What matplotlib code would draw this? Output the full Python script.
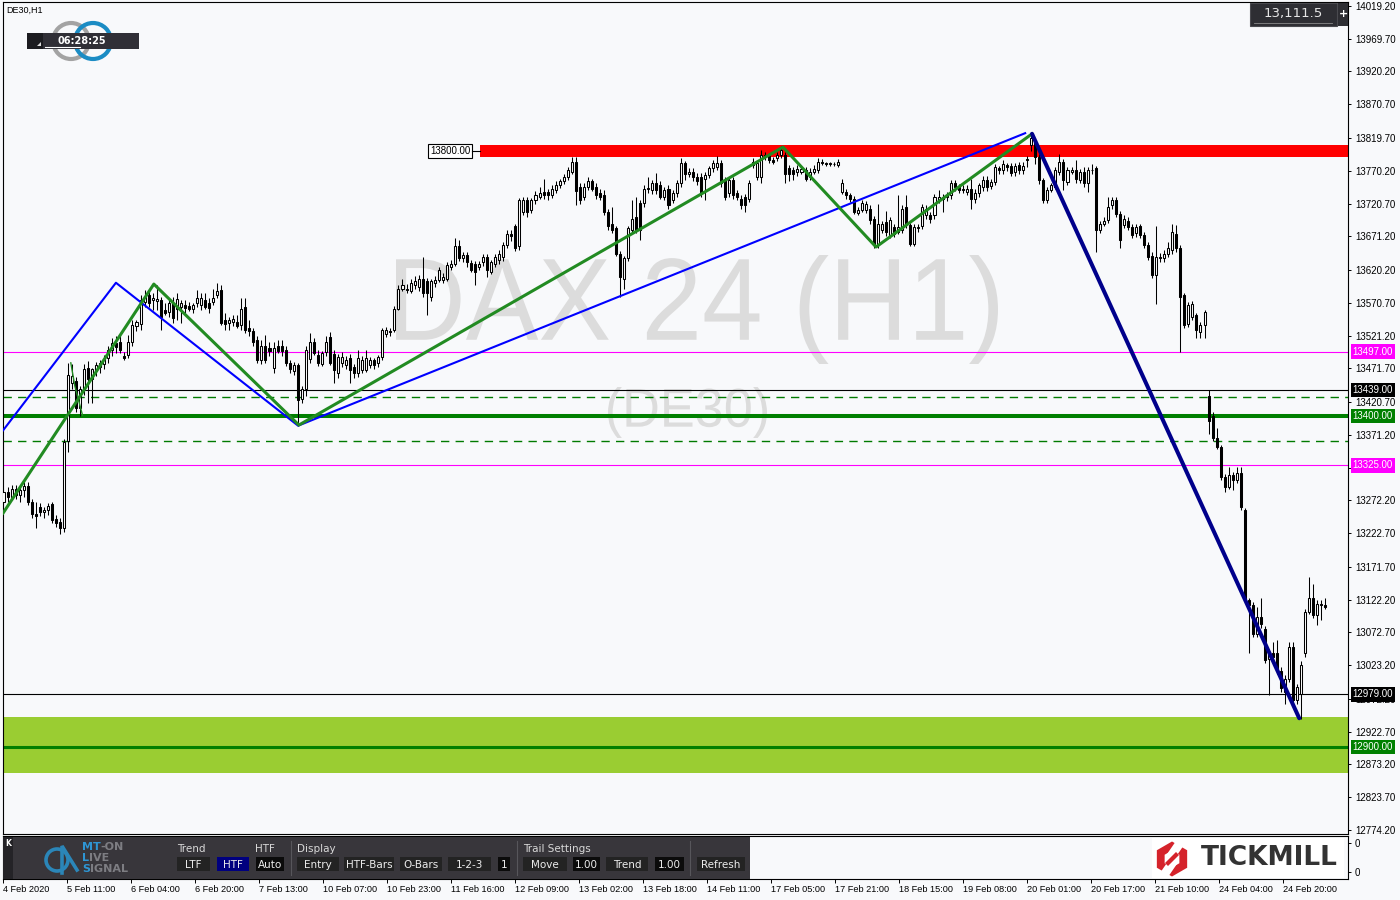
import numpy as np
import matplotlib
matplotlib.use("Agg")
import matplotlib.pyplot as plt
from matplotlib.patches import Rectangle, Circle, RegularPolygon, Polygon, PathPatch
from matplotlib.textpath import TextPath
from matplotlib.font_manager import FontProperties
from matplotlib.transforms import Affine2D, blended_transform_factory

# DE30 H1 candles (one entry per hour bar)
opens = [
    13270, 13285, 13278, 13290, 13280, 13288, 13294, 13270, 13252, 13262,
    13255, 13258, 13266, 13244, 13240, 13230, 13362, 13450, 13452, 13412,
    13440, 13472, 13455, 13468, 13474, 13478, 13487, 13499, 13510, 13512,
    13490, 13492, 13512, 13535, 13538, 13572, 13582, 13575, 13574, 13575,
    13560, 13557, 13570, 13562, 13565, 13568, 13566, 13562, 13570, 13568,
    13575, 13570, 13572, 13582, 13590, 13544, 13540, 13541, 13542, 13537,
    13565, 13532, 13528, 13515, 13485, 13505, 13503, 13472, 13505, 13505,
    13500, 13480, 13468, 13476, 13426, 13440, 13486, 13512, 13492, 13478,
    13497, 13519, 13494, 13464, 13479, 13477, 13487, 13474, 13464, 13469,
    13469, 13477, 13484, 13479, 13489, 13524, 13528, 13530, 13562, 13592,
    13592, 13589, 13597, 13595, 13607, 13603, 13580, 13600, 13605, 13605,
    13607, 13625, 13630, 13656, 13638, 13643, 13631, 13630, 13625, 13633,
    13640, 13617, 13630, 13635, 13640, 13658, 13675, 13686, 13656, 13708,
    13726, 13711, 13726, 13731, 13738, 13738, 13733, 13741, 13748, 13754,
    13761, 13769, 13783, 13746, 13731, 13746, 13754, 13746, 13736, 13733,
    13708, 13690, 13683, 13645, 13607, 13638, 13681, 13700, 13721, 13721,
    13742, 13741, 13751, 13748, 13731, 13743, 13726, 13736, 13751, 13782,
    13766, 13769, 13761, 13761, 13758, 13764, 13774, 13776, 13782, 13756,
    13736, 13756, 13736, 13728, 13731, 13728, 13783, 13761, 13761, 13794,
    13792, 13786, 13789, 13794, 13794, 13774, 13771, 13769, 13769, 13771,
    13761, 13769, 13771, 13783, 13782, 13781, 13781, 13779, 13738, 13738,
    13733, 13728, 13707, 13711, 13711, 13713, 13698, 13658, 13680, 13693,
    13673, 13685, 13678, 13680, 13715, 13688, 13660, 13683, 13686, 13703,
    13703, 13703, 13726, 13731, 13730, 13733, 13751, 13746, 13743, 13738,
    13743, 13728, 13736, 13746, 13757, 13747, 13753, 13774, 13771, 13779,
    13777, 13768, 13779, 13771, 13788, 13809, 13816, 13791, 13756, 13726,
    13741, 13746, 13768, 13784, 13753, 13769, 13771, 13756, 13768, 13751,
    13772, 13774, 13681, 13690, 13696, 13718, 13726, 13705, 13688, 13695,
    13685, 13676, 13686, 13673, 13658, 13642, 13612, 13640, 13638, 13645,
    13650, 13675, 13653, 13582, 13539, 13549, 13552, 13527, 13537, 13430,
    13400, 13366, 13353, 13308, 13293, 13310, 13303, 13313, 13258, 13121,
    13114, 13071, 13096, 13078, 13033, 13041, 13041, 13015, 12983, 13003,
    13051, 12970, 12980, 13041, 13104, 13124, 13099, 13115, 13114]
highs = [
    13290, 13292, 13295, 13296, 13293, 13300, 13300, 13275, 13270, 13268,
    13262, 13268, 13270, 13250, 13245, 13365, 13480, 13478, 13458, 13445,
    13478, 13483, 13472, 13482, 13485, 13492, 13505, 13518, 13520, 13525,
    13496, 13522, 13545, 13545, 13582, 13590, 13590, 13585, 13598, 13580,
    13570, 13575, 13580, 13585, 13575, 13575, 13572, 13570, 13590, 13585,
    13585, 13578, 13592, 13600, 13597, 13555, 13550, 13552, 13552, 13578,
    13578, 13545, 13532, 13520, 13515, 13522, 13512, 13512, 13515, 13515,
    13505, 13484, 13482, 13480, 13445, 13505, 13525, 13518, 13500, 13498,
    13520, 13527, 13499, 13494, 13496, 13491, 13494, 13478, 13499, 13491,
    13499, 13489, 13488, 13492, 13533, 13534, 13532, 13566, 13597, 13606,
    13599, 13606, 13611, 13612, 13640, 13608, 13606, 13611, 13625, 13616,
    13632, 13636, 13668, 13666, 13648, 13648, 13636, 13634, 13634, 13644,
    13645, 13636, 13645, 13651, 13662, 13681, 13681, 13690, 13729, 13731,
    13731, 13729, 13739, 13746, 13758, 13742, 13749, 13754, 13758, 13765,
    13776, 13791, 13791, 13751, 13751, 13761, 13758, 13751, 13742, 13741,
    13712, 13715, 13686, 13649, 13642, 13686, 13726, 13731, 13726, 13748,
    13761, 13756, 13767, 13754, 13746, 13748, 13741, 13756, 13789, 13785,
    13774, 13774, 13767, 13767, 13769, 13778, 13787, 13793, 13787, 13761,
    13761, 13761, 13741, 13733, 13735, 13756, 13789, 13787, 13801, 13799,
    13797, 13791, 13799, 13808, 13799, 13779, 13776, 13779, 13778, 13776,
    13774, 13779, 13789, 13788, 13784, 13784, 13784, 13788, 13758, 13742,
    13736, 13732, 13716, 13726, 13724, 13718, 13702, 13720, 13695, 13710,
    13700, 13690, 13733, 13718, 13733, 13692, 13690, 13690, 13720, 13718,
    13708, 13735, 13741, 13735, 13738, 13756, 13756, 13750, 13748, 13748,
    13758, 13742, 13752, 13762, 13762, 13758, 13780, 13778, 13786, 13782,
    13782, 13782, 13784, 13784, 13792, 13825, 13820, 13795, 13760, 13746,
    13752, 13776, 13796, 13788, 13776, 13776, 13786, 13773, 13776, 13776,
    13781, 13778, 13695, 13700, 13731, 13731, 13731, 13709, 13703, 13700,
    13690, 13690, 13690, 13678, 13662, 13648, 13686, 13646, 13650, 13663,
    13690, 13688, 13658, 13586, 13572, 13574, 13556, 13541, 13560, 13439,
    13405, 13381, 13356, 13312, 13323, 13315, 13323, 13323, 13261, 13125,
    13118, 13111, 13124, 13082, 13046, 13058, 13061, 13020, 13008, 13058,
    13058, 12995, 13030, 13108, 13156, 13146, 13121, 13121, 13124]
lows = [
    13255, 13270, 13272, 13275, 13270, 13278, 13265, 13245, 13230, 13248,
    13246, 13250, 13238, 13232, 13222, 13225, 13345, 13440, 13405, 13400,
    13432, 13420, 13420, 13460, 13465, 13470, 13480, 13490, 13495, 13495,
    13484, 13488, 13505, 13528, 13530, 13565, 13565, 13560, 13560, 13530,
    13552, 13550, 13540, 13545, 13540, 13555, 13558, 13555, 13565, 13560,
    13562, 13555, 13568, 13578, 13537, 13530, 13530, 13535, 13532, 13530,
    13525, 13520, 13505, 13480, 13478, 13480, 13490, 13465, 13495, 13490,
    13475, 13465, 13462, 13385, 13420, 13430, 13480, 13492, 13475, 13475,
    13490, 13476, 13449, 13457, 13474, 13471, 13449, 13457, 13459, 13464,
    13466, 13472, 13471, 13474, 13485, 13519, 13520, 13526, 13560, 13588,
    13586, 13586, 13592, 13589, 13580, 13552, 13574, 13595, 13602, 13600,
    13604, 13620, 13627, 13634, 13633, 13625, 13617, 13597, 13620, 13627,
    13610, 13614, 13625, 13630, 13634, 13653, 13664, 13649, 13651, 13704,
    13701, 13707, 13720, 13728, 13728, 13726, 13729, 13737, 13744, 13750,
    13757, 13765, 13718, 13720, 13726, 13741, 13739, 13728, 13726, 13703,
    13681, 13676, 13642, 13580, 13592, 13634, 13676, 13676, 13665, 13716,
    13737, 13735, 13735, 13728, 13726, 13713, 13722, 13731, 13746, 13757,
    13761, 13755, 13748, 13731, 13726, 13759, 13769, 13772, 13746, 13726,
    13731, 13728, 13726, 13713, 13708, 13723, 13774, 13756, 13751, 13787,
    13782, 13780, 13785, 13789, 13751, 13754, 13757, 13763, 13765, 13754,
    13757, 13765, 13767, 13779, 13778, 13778, 13777, 13776, 13735, 13728,
    13723, 13705, 13703, 13708, 13706, 13690, 13653, 13654, 13676, 13672,
    13668, 13670, 13674, 13676, 13684, 13656, 13656, 13678, 13682, 13698,
    13692, 13698, 13722, 13708, 13725, 13728, 13740, 13736, 13736, 13734,
    13713, 13722, 13730, 13740, 13740, 13742, 13748, 13765, 13766, 13770,
    13762, 13763, 13766, 13766, 13776, 13800, 13780, 13750, 13721, 13722,
    13738, 13743, 13764, 13741, 13748, 13765, 13752, 13751, 13745, 13738,
    13766, 13648, 13676, 13686, 13692, 13713, 13700, 13653, 13683, 13680,
    13668, 13670, 13668, 13653, 13636, 13608, 13569, 13633, 13633, 13640,
    13645, 13648, 13497, 13532, 13534, 13544, 13517, 13518, 13518, 13372,
    13362, 13350, 13303, 13285, 13290, 13288, 13298, 13258, 13117, 13041,
    13065, 13066, 13080, 13026, 12978, 13030, 13010, 12983, 12965, 12998,
    12960, 12965, 12942, 13036, 13100, 13094, 13084, 13091, 13108]
closes = [
    13285, 13278, 13290, 13280, 13288, 13294, 13270, 13252, 13248, 13255,
    13258, 13263, 13242, 13238, 13230, 13360, 13462, 13460, 13412, 13440,
    13470, 13455, 13470, 13476, 13479, 13486, 13500, 13510, 13504, 13500,
    13488, 13512, 13537, 13541, 13575, 13580, 13570, 13578, 13577, 13550,
    13555, 13570, 13548, 13577, 13570, 13563, 13561, 13567, 13578, 13578,
    13565, 13563, 13578, 13588, 13540, 13538, 13545, 13546, 13535, 13562,
    13530, 13528, 13512, 13485, 13505, 13485, 13498, 13502, 13498, 13498,
    13480, 13470, 13477, 13424, 13441, 13499, 13512, 13495, 13480, 13495,
    13512, 13479, 13469, 13489, 13489, 13484, 13469, 13464, 13487, 13484,
    13487, 13484, 13477, 13489, 13530, 13530, 13527, 13562, 13592, 13597,
    13590, 13600, 13604, 13607, 13585, 13585, 13603, 13605, 13620, 13610,
    13628, 13630, 13656, 13638, 13643, 13633, 13620, 13617, 13630, 13640,
    13620, 13633, 13640, 13645, 13658, 13675, 13671, 13653, 13726, 13726,
    13708, 13726, 13733, 13736, 13733, 13733, 13743, 13748, 13754, 13761,
    13771, 13783, 13739, 13726, 13746, 13755, 13743, 13733, 13731, 13708,
    13686, 13681, 13645, 13610, 13638, 13683, 13698, 13681, 13681, 13743,
    13744, 13751, 13741, 13731, 13741, 13718, 13736, 13751, 13782, 13766,
    13769, 13761, 13754, 13736, 13764, 13774, 13782, 13782, 13751, 13731,
    13756, 13733, 13731, 13718, 13718, 13751, 13779, 13782, 13794, 13792,
    13786, 13784, 13794, 13801, 13766, 13766, 13766, 13773, 13773, 13758,
    13769, 13773, 13783, 13782, 13781, 13782, 13780, 13783, 13751, 13733,
    13728, 13708, 13711, 13721, 13720, 13696, 13658, 13690, 13690, 13678,
    13696, 13675, 13685, 13713, 13688, 13660, 13685, 13685, 13715, 13713,
    13698, 13730, 13731, 13728, 13733, 13751, 13746, 13741, 13741, 13743,
    13728, 13736, 13748, 13757, 13746, 13753, 13776, 13771, 13781, 13776,
    13767, 13777, 13771, 13777, 13787, 13819, 13791, 13756, 13726, 13741,
    13748, 13771, 13784, 13756, 13771, 13771, 13758, 13768, 13751, 13771,
    13771, 13680, 13690, 13695, 13716, 13726, 13705, 13665, 13698, 13685,
    13673, 13685, 13673, 13658, 13640, 13612, 13640, 13638, 13645, 13653,
    13678, 13653, 13580, 13537, 13567, 13569, 13529, 13537, 13557, 13392,
    13366, 13353, 13308, 13293, 13310, 13303, 13313, 13262, 13121, 13114,
    13071, 13096, 13086, 13031, 13041, 13036, 13015, 12988, 13003, 13051,
    12970, 12990, 13023, 13104, 13124, 13099, 13116, 13114, 13111]

time_labels = ["4 Feb 2020", "5 Feb 11:00", "6 Feb 04:00", "6 Feb 20:00", "7 Feb 13:00",
               "10 Feb 07:00", "10 Feb 23:00", "11 Feb 16:00", "12 Feb 09:00", "13 Feb 02:00",
               "13 Feb 18:00", "14 Feb 11:00", "17 Feb 05:00", "17 Feb 21:00", "18 Feb 15:00",
               "19 Feb 08:00", "20 Feb 01:00", "20 Feb 17:00", "21 Feb 10:00", "24 Feb 04:00",
               "24 Feb 20:00"]
price_ticks = [14019.20, 13969.70, 13920.20, 13870.70, 13819.70, 13770.20, 13720.70,
               13671.20, 13620.20, 13570.70, 13521.20, 13471.70, 13420.70, 13371.20,
               13321.70, 13272.20, 13222.70, 13171.70, 13122.20, 13072.70, 13023.20,
               12972.20, 12922.70, 12873.20, 12823.70, 12774.20]
hidden_tick = 13321.70  # fully covered by the 13325 tag in the terminal

# horizontal levels and zones
red_zone = (13791, 13809)
red_zone_start = 118.2
green_zone = (12860, 12945)
magenta_levels = [13497, 13325]
black_levels = [13439, 12979]
green_levels = [13400, 12900]
dashed_levels = [13428, 13362]
level_tags = [13497, 13439, 13400, 13325, 12979, 12900]
tag_colors = ['#ff00ff', '#000000', '#008000', '#ff00ff', '#000000', '#008000']

# zigzag swings (bar index, price)
blue_bars = [-0.1, 27.9, 73.1, 253.5]
blue_prices = [13378, 13601, 13385, 13827]
green_bars = [-0.1, 37.3, 73.3, 193.4, 216.5, 255.2]
green_prices = [13253, 13599, 13386, 13806, 13655, 13826]
navy_bars = [255.2, 321.5]
navy_prices = [13826, 12943]
hook_bars = [16.7, 17.7, 19.6]
hook_prices = [13480, 13445, 13401]

BG = '#f8f9fb'
AXFONT = 'Liberation Sans'
W, H = 1400, 900
fig = plt.figure(figsize=(W / 100, H / 100), dpi=100, facecolor=BG)

ax = fig.add_axes([3 / W, 1 - 834 / H, 1345 / W, 832 / H], facecolor=BG)
ax.set_xlim(-0.124, 333.6)
ax.set_ylim(12768.1, 14025.2)

# watermark, fitted to its box in pixels
px2ax = Affine2D().translate(-3, -834).scale(1 / 1345, -1 / 832) + ax.transAxes


def watermark(text, left, top, right, bottom):
    tp = TextPath((0, 0), text, size=100, prop=FontProperties(family='Liberation Sans'))
    bb = tp.get_extents()
    tr = (Affine2D().translate(-bb.x0, -bb.y1)
          .scale((right - left) / bb.width, -(bottom - top) / bb.height)
          .translate(left, top)) + px2ax
    ax.add_patch(PathPatch(tp, transform=tr, fc='#dcdcdc', ec='none', zorder=0.5))


watermark("DAX 24 (H1)", 396, 255, 998, 364)
watermark("(DE30)", 608, 387, 767, 438)

# zones and levels
ax.axhspan(*green_zone, color='#9acd32', lw=0, zorder=1)
ax.add_patch(Rectangle((red_zone_start, red_zone[0]), 400, red_zone[1] - red_zone[0],
                       fc='#ff0000', ec='none', zorder=1))
for p in magenta_levels:
    ax.axhline(p, color='#ff00ff', lw=0.8, zorder=2)
for p in black_levels:
    ax.axhline(p, color='black', lw=0.8, zorder=2)
ax.axhline(green_levels[0], color='#008000', lw=2.9, zorder=2)
ax.axhline(green_levels[1], color='#008000', lw=2.2, zorder=2)
for p in dashed_levels:
    ax.axhline(p, color='#007a00', lw=1.0, dashes=(6.0, 4.5), zorder=2)

ax.text(red_zone_start - 2.4, 13800, '13800.00', ha='right', va='center', fontsize=7,
        family=AXFONT, bbox=dict(boxstyle='square,pad=0.2', fc='white', ec='black', lw=0.8),
        zorder=7)
ax.plot([red_zone_start - 2.0, red_zone_start], [13800, 13800], color='black', lw=0.8, zorder=7)

# candles
o, hi, lo, c = (np.array(v, dtype=float) for v in (opens, highs, lows, closes))
x = np.arange(len(c))
up = c >= o
ax.vlines(x, lo, hi, color='black', lw=0.75, zorder=4)
ax.bar(x, np.maximum(np.abs(c - o), 0.6), bottom=np.minimum(o, c), width=0.5,
       color=np.where(up, 'white', 'black'), edgecolor='black', linewidth=0.75, zorder=5)

# zigzags
ax.plot(blue_bars, blue_prices, color='#0000ff', lw=1.5, zorder=6)
ax.plot(green_bars, green_prices, color='#228b22', lw=2.2, zorder=6)
ax.plot(hook_bars, hook_prices, color='#228b22', lw=1.0, zorder=6)
ax.plot(navy_bars, navy_prices, color='#00008b', lw=2.9, zorder=6, solid_capstyle='round')

# right price axis
ax.yaxis.tick_right()
ax.set_yticks(price_ticks)
ax.set_yticklabels(['' if v == hidden_tick else f'{v:.2f}' for v in price_ticks], family=AXFONT)
ax.tick_params(axis='y', direction='out', length=2.5, width=0.7, pad=2.5, labelsize=7)
ax.set_xticks([])
for s in ax.spines.values():
    s.set_linewidth(0.8)

tag_tr = blended_transform_factory(ax.transAxes, ax.transData)
for p, col in zip(level_tags, tag_colors):
    ax.text(1.0035, p, f'{p:.2f}', transform=tag_tr, ha='left', va='center', fontsize=7,
            family=AXFONT, color='white', clip_on=False, zorder=8,
            bbox=dict(boxstyle='square,pad=0.22', fc=col, ec='none'))

# indicator sub-window with the time axis
pan = fig.add_axes([3 / W, 1 - 879 / H, 1345 / W, 43 / H], facecolor=BG)
pan.set_xlim(ax.get_xlim())
pan.set_ylim(0, 1)
pan.yaxis.tick_right()
pan.set_yticks([0.163, 0.837])
pan.set_yticklabels(['0', '0'], family=AXFONT)
tick_pos = (3.0 + 64.0 * np.arange(len(time_labels)) - 3.5) / 4.03
pan.set_xticks(tick_pos)
pan.set_xticklabels(time_labels, ha='left', family=AXFONT)
pan.tick_params(axis='x', direction='out', length=3, width=0.7, pad=1.5, labelsize=6.6)
pan.tick_params(axis='y', direction='out', length=2.5, width=0.7, pad=2.5, labelsize=7)
for s in pan.spines.values():
    s.set_linewidth(0.8)

# overlay in pixel coordinates for the terminal widgets
ui = fig.add_axes([0, 0, 1, 1], zorder=10)
ui.set_xlim(0, W)
ui.set_ylim(H, 0)
ui.axis('off')
renderer = fig.canvas.get_renderer()

ui.text(6, 10, 'DE30,H1', fontsize=6.5, family=AXFONT, ha='left', va='center')
ui.add_patch(Circle((71, 41), 18, fill=False, ec='#a3a3a3', lw=3))
ui.add_patch(Circle((93, 41), 18, fill=False, ec='#1b8cc4', lw=3))
ui.add_patch(Rectangle((27, 32.5), 112, 16, fc='#302f36', ec='none'))
ui.add_patch(Rectangle((27, 32.5), 16, 16, fc='#1c1c20', ec='none'))
ui.add_patch(Polygon([[36.5, 46], [41, 46], [41, 41.5]], closed=True, fc='#dddddd', ec='none'))
ui.text(82, 40.5, '06:28:25', color='white', fontsize=7, fontweight='bold', ha='center', va='center')
ui.plot([45, 80], [46.5, 46.5], color='white', lw=0.8)

ui.add_patch(Rectangle((1250, 3), 87, 23, fc='#2e2e33', ec='#4a4a4f', lw=0.8))
ui.text(1293, 14, '13,111.5', color='#e6e6e6', fontsize=9.5, ha='center', va='center')
ui.plot([1254, 1332], [22.5, 22.5], color='#8a8a8a', lw=0.6)
ui.add_patch(Rectangle((1338, 3), 10, 23, fc='#2e2e33', ec='none'))
ui.text(1343, 14, '+', color='white', fontsize=8, fontweight='bold', ha='center', va='center')

# toolbar
ui.add_patch(Rectangle((3, 837), 747, 42, fc='#38363b', ec='none'))
ui.add_patch(Rectangle((3, 837), 10, 42, fc='#242327', ec='none'))
ui.text(8, 843, 'K', color='white', fontsize=5.5, fontweight='bold', ha='center', va='center')
ui.add_patch(Circle((57, 860), 11, fill=False, ec='#2b86b8', lw=2.6))
ui.plot([62, 62, 77], [873, 846, 870], color='#2b86b8', lw=2.6, solid_joinstyle='miter')
for lead, rest, yy in (('MT', '-ON', 847), ('L', 'IVE', 858), ('S', 'IGNAL', 869)):
    t = ui.text(82, yy, lead, color='#2e95d3', fontsize=8, fontweight='bold', ha='left', va='center')
    lead_w = t.get_window_extent(renderer).width
    ui.text(82 + lead_w, yy, rest, color='#7d7d82', fontsize=8, fontweight='bold',
            ha='left', va='center')

for txt, xx in (('Trend', 177), ('HTF', 255), ('Display', 297), ('Trail Settings', 523)):
    ui.text(xx, 849, txt, color='#d8d8d8', fontsize=7.5, ha='left', va='center')
buttons = [("LTF", 177, 210, '#232323'), ("HTF", 217, 249, '#00007f'), ("Auto", 256, 284, '#0b0b0b'),
           ("Entry", 297, 339, '#232323'), ("HTF-Bars", 344, 394, '#232323'),
           ("O-Bars", 400, 442, '#232323'), ("1-2-3", 448, 491, '#232323'), ("1", 498, 510, '#0b0b0b'),
           ("Move", 523, 567, '#232323'), ("1.00", 573, 600, '#0b0b0b'), ("Trend", 606, 648, '#232323'),
           ("1.00", 655, 684, '#0b0b0b'), ("Refresh", 697, 745, '#232323')]
for txt, x0, x1, bg in buttons:
    ui.add_patch(Rectangle((x0, 857), x1 - x0, 14, fc=bg, ec='none'))
    ui.text((x0 + x1) / 2, 864.5, txt, color='#ececec', fontsize=7.5, ha='center', va='center')
for xx in (291, 517, 690):
    ui.plot([xx, xx], [841, 875], color='#57565b', lw=0.8)

# broker logo
ui.add_patch(Rectangle((1152, 838), 192, 40, fc='white', ec='none'))
ui.add_patch(RegularPolygon((1172, 859), 6, radius=17.5, orientation=0, fc='#d5232b', ec='none'))
ui.add_patch(RegularPolygon((1172, 859), 6, radius=8.5, orientation=0, fc='white', ec='none'))
ui.add_patch(Polygon([[1176, 841], [1184, 845], [1173, 861], [1165, 857]], closed=True, fc='white', ec='none'))
ui.add_patch(Polygon([[1179, 861], [1171, 857], [1160, 873], [1168, 877]], closed=True, fc='white', ec='none'))
ui.add_patch(Polygon([[1176, 852], [1179, 855], [1168, 866], [1165, 863]], closed=True, fc='#d5232b', ec='none'))
ui.text(1201, 858, 'TICKMILL', fontsize=19, fontweight='bold', color='#333333', ha='left', va='center')

fig.savefig('out.png', dpi=100, facecolor=BG)
